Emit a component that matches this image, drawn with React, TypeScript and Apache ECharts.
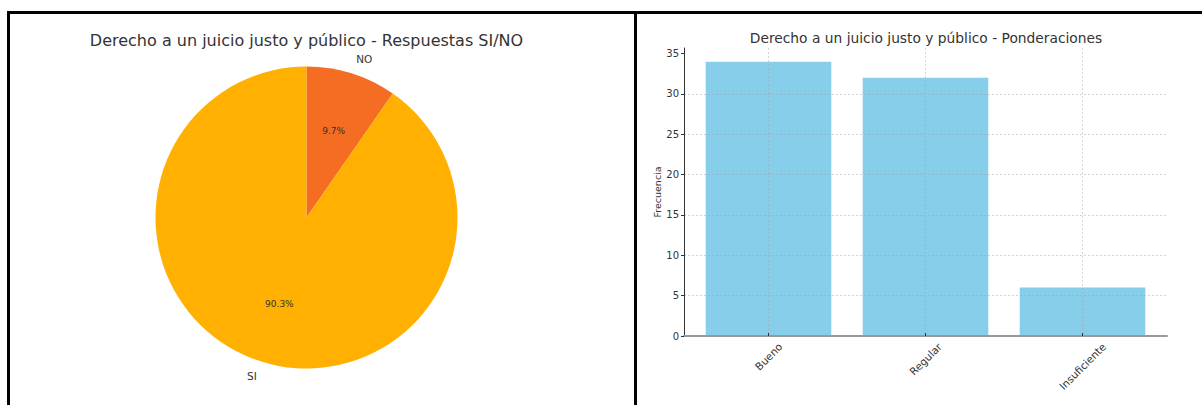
import React, { useEffect, useRef } from 'react';
import * as echarts from 'echarts';

const leftTitle = 'Derecho a un juicio justo y público - Respuestas SI/NO';
const rightTitle = 'Derecho a un juicio justo y público - Ponderaciones';
const pieNames = ['NO', 'SI'];
const pieValues = [3, 28];
const pieColors = ['#F46D22', '#FFB000'];
const barCategories = ['Bueno', 'Regular', 'Insuficiente'];
const barValues = [34, 32, 6];
const yTickValues = [0, 5, 10, 15, 20, 25, 30, 35];
const yAxisName = 'Frecuencia';

const FONT = 'DejaVu Sans';

function measure(text: string, size: number): number {
  const ctx = document.createElement('canvas').getContext('2d');
  if (!ctx) return text.length * size * 0.6;
  ctx.font = `${size}px "${FONT}"`;
  return ctx.measureText(text).width;
}

export default function App() {
  const ref = useRef<HTMLDivElement>(null);

  useEffect(() => {
    if (!ref.current) return;
    const chart = echarts.init(ref.current, undefined, { renderer: 'svg' });

    const pieCx = 306.5;
    const pieCy = 217.5;
    const pieR = 151;

    const yMax = Math.max(...barValues) * 1.05;
    const labelSize = 10.5;
    const labelH = 12;
    const labelPad = 4.5;

    const catData = barCategories.map((c) => {
      const w = measure(c, labelSize);
      const L = (w + labelH) / 2;
      return {
        value: c,
        textStyle: {
          padding: [0, L, 0, 0],
          lineHeight: L,
          align: 'center',
          verticalAlign: 'top',
          fontSize: labelSize,
          color: '#333',
          fontFamily: FONT,
        },
      };
    });

    const gridCommon = { top: 48, bottom: 405 - 336, outerBoundsMode: 'none', containLabel: false };

    const option: any = {
      animation: false,
      textStyle: { fontFamily: FONT },
      title: [
        {
          text: leftTitle,
          left: pieCx - 5,
          top: 27.5,
          textAlign: 'center',
          textStyle: { fontSize: 16, fontWeight: 'normal', color: '#333', fontFamily: FONT },
        },
        {
          text: rightTitle,
          left: 921,
          top: 26,
          textAlign: 'center',
          textStyle: { fontSize: 13.8, fontWeight: 'normal', color: '#333', fontFamily: FONT },
        },
      ],
      grid: [
        { left: 684, right: 1202 - 1167, ...gridCommon },
        { left: 768.5, right: 1202 - 1082.5, ...gridCommon },
      ],
      xAxis: [
        {
          type: 'value',
          gridIndex: 0,
          min: 0,
          max: 1,
          axisLine: { show: true, lineStyle: { color: '#999', width: 2 } },
          axisTick: { show: false },
          axisLabel: { show: false },
          splitLine: { show: false },
          z: 5,
        },
        {
          type: 'category',
          gridIndex: 1,
          data: catData,
          boundaryGap: false,
          axisLine: { show: false },
          axisTick: { show: true, inside: true, length: 3, lineStyle: { color: '#333' } },
          axisLabel: {
            interval: 0,
            rotate: 45,
            align: 'center',
            verticalAlign: 'top',
            margin: labelPad,
            fontSize: labelSize,
            color: '#333',
            fontFamily: FONT,
          },
          splitLine: {
            show: true,
            lineStyle: { color: 'rgba(160,160,160,0.45)', width: 1, type: [2, 2] },
          },
          z: 5,
        },
      ],
      yAxis: [
        {
          type: 'value',
          gridIndex: 0,
          min: 0,
          max: yMax,
          interval: 5,
          name: yAxisName,
          nameLocation: 'middle',
          nameGap: 17,
          nameTextStyle: { fontSize: 9.5, color: '#333', fontFamily: FONT },
          axisLine: { show: true, lineStyle: { color: '#333', width: 1 } },
          axisTick: { show: true, length: 3, lineStyle: { color: '#333' }, customValues: yTickValues },
          axisLabel: {
            fontSize: 10,
            color: '#333',
            margin: 5,
            fontFamily: FONT,
            customValues: yTickValues,
          },
          splitLine: {
            show: true,
            showMaxLine: false,
            lineStyle: { color: 'rgba(160,160,160,0.45)', width: 1, type: [2, 2] },
          },
          z: 5,
        },
        {
          type: 'value',
          gridIndex: 1,
          min: 0,
          max: yMax,
          show: false,
        },
      ],
      series: [
        {
          type: 'pie',
          center: [pieCx, pieCy],
          radius: [0, pieR],
          startAngle: 90,
          clockwise: true,
          silent: true,
          avoidLabelOverlap: false,
          data: pieNames.map((n, i) => ({ name: n, value: pieValues[i], itemStyle: { color: pieColors[i] } })),
          itemStyle: { borderWidth: 0 },
          label: {
            show: true,
            position: 'outside',
            formatter: '{b}',
            fontSize: 10.5,
            color: '#333',
            fontFamily: FONT,
            distanceToLabelLine: 0,
          },
          labelLine: { show: false, length: pieR * 0.1, length2: 0 },
          emphasis: { disabled: true },
        },
        {
          type: 'pie',
          center: [pieCx, pieCy],
          radius: [pieR * 0.2 - 6, pieR],
          startAngle: 90,
          clockwise: true,
          silent: true,
          percentPrecision: 1,
          avoidLabelOverlap: false,
          data: pieNames.map((n, i) => ({ name: n, value: pieValues[i] })),
          itemStyle: { color: 'rgba(0,0,0,0)', borderWidth: 0 },
          label: {
            show: true,
            position: 'inside',
            formatter: '{d}%',
            fontSize: 9,
            color: '#333',
            fontFamily: FONT,
          },
          labelLine: { show: false },
          emphasis: { disabled: true },
        },
        {
          type: 'bar',
          xAxisIndex: 1,
          yAxisIndex: 1,
          data: barValues,
          barWidth: 125.6,
          clip: false,
          itemStyle: { color: '#87CEEB' },
          silent: true,
          z: 2,
        },
      ],
      graphic: [
        { type: 'rect', shape: { x: 7, y: 11, width: 1195, height: 3 }, style: { fill: '#000' }, silent: true },
        { type: 'rect', shape: { x: 7, y: 11, width: 3, height: 394 }, style: { fill: '#000' }, silent: true },
        { type: 'rect', shape: { x: 634, y: 11, width: 3, height: 394 }, style: { fill: '#000' }, silent: true },
      ],
    };

    chart.setOption(option);
    return () => chart.dispose();
  }, []);

  return (
    <div
      ref={ref}
      style={{ position: 'fixed', left: 0, top: 0, width: 1202, height: 405, background: '#fff' }}
    />
  );
}
